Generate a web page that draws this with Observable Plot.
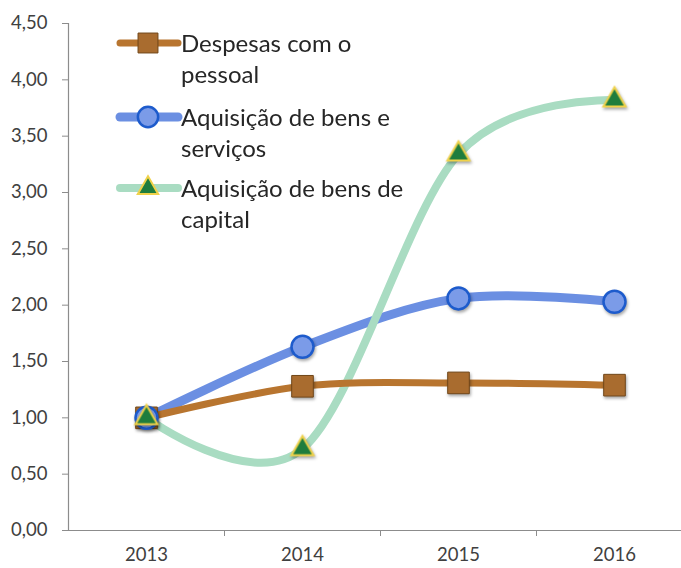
<!DOCTYPE html>
<html><head><meta charset="utf-8">
<script src="https://cdn.jsdelivr.net/npm/d3@7"></script>
<script src="https://cdn.jsdelivr.net/npm/@observablehq/plot@0.6"></script>
<style>
body{margin:0;background:#fff;}
#wrap{position:relative;width:681px;height:568px;font-family:Lato,sans-serif;}
#legend{position:absolute;left:0;top:0;pointer-events:none;}
</style></head><body><div id="wrap"></div>
<script>
// ---- data ----
const years = [2013, 2014, 2015, 2016];
const seriesNames = ["Despesas com o pessoal", "Aquisição de bens e serviços", "Aquisição de bens de capital"];
const legendLines = [["Despesas com o", "pessoal"], ["Aquisição de bens e", "serviços"], ["Aquisição de bens de", "capital"]];
const despesasPessoal = [1.00, 1.28, 1.31, 1.29];
const bensServicos   = [1.00, 1.63, 2.06, 2.03];
const bensCapital    = [1.00, 0.725, 3.34, 3.82];
const yTicks = [0, 0.5, 1, 1.5, 2, 2.5, 3, 3.5, 4, 4.5];

// ---- styles ----
const styles = [
  {line: "#b8752f", lw: 7, symbol: "square",   fill: "#a96c2f", mstroke: "#714719", r: 12.2, msw: 1},
  {line: "#6b8fe2", lw: 9, symbol: "circle",   fill: "#7b9be8", mstroke: "#1d5bcc", r: 11,   msw: 2.5},
  {line: "#a9dcc2", lw: 8, symbol: "triangle", fill: "#1f7d3d", mstroke: "#f0d24a", r: 8.2,  msw: 2}
];
const values = [despesasPessoal, bensServicos, bensCapital];
const rows = values.flatMap((arr, s) => arr.map((v, i) => ({year: years[i], value: v, s})));
const ser = s => rows.filter(d => d.s === s);

const lineMark = s => Plot.line(ser(s), {x: "year", y: "value", stroke: styles[s].line, strokeWidth: styles[s].lw,
  curve: "cardinal", strokeLinecap: "round", strokeLinejoin: "round"});
const dotMark = s => Plot.dot(ser(s), {x: "year", y: "value", symbol: styles[s].symbol, r: styles[s].r,
  fill: styles[s].fill, stroke: styles[s].mstroke, strokeWidth: styles[s].msw});

const fmt = d => d.toFixed(2).replace(".", ",");

const chart = Plot.plot({
  width: 681, height: 568,
  marginLeft: 68, marginRight: 0, marginTop: 23, marginBottom: 38,
  style: {fontFamily: "Lato, sans-serif", fontSize: "18.5px", color: "#404040", background: "#fff"},
  x: {domain: [2012.5, 2016.5], range: [68, 692], label: null},
  y: {domain: [0, 4.5], label: null},
  marks: [
    Plot.ruleX([2012.5], {stroke: "#8c8c8c", strokeWidth: 1.2}),
    Plot.ruleY([0], {stroke: "#8c8c8c", strokeWidth: 1.2}),
    Plot.axisY({ticks: yTicks, tickFormat: fmt, tickSize: 6, tickPadding: 15, stroke: "#8c8c8c", fill: "#404040", label: null}),
    Plot.axisX({ticks: [2013.5, 2014.5, 2015.5], tickFormat: () => "", tickSize: 6, stroke: "#8c8c8c", label: null}),
    Plot.axisX({ticks: years, tickFormat: d => String(d), tickSize: 0, tickPadding: 17, fill: "#404040", label: null}),
    lineMark(1), lineMark(2), lineMark(0),
    dotMark(0), dotMark(1), dotMark(2)
  ]
});
const wrap = document.getElementById("wrap");
wrap.appendChild(chart);
chart.querySelectorAll('g[aria-label="dot"]').forEach(g => g.style.filter = "drop-shadow(1px 2px 1.5px rgba(0,0,0,0.35))");

// ---- legend overlay ----
const leg = d3.select(wrap).append("svg").attr("id", "legend").attr("width", 681).attr("height", 568);
const entryY = [43, 117, 188];
const symbolGen = {square: d3.symbolSquare, circle: d3.symbolCircle, triangle: d3.symbolTriangle};
legendLines.forEach((lines, i) => {
  const st = styles[i];
  const g = leg.append("g").attr("transform", `translate(0,${entryY[i]})`);
  g.append("line").attr("x1", 120).attr("x2", 178).attr("y1", 0).attr("y2", 0)
    .attr("stroke", st.line).attr("stroke-width", st.lw).attr("stroke-linecap", "round");
  g.append("path").attr("transform", "translate(148,0)")
    .attr("d", d3.symbol(symbolGen[st.symbol], Math.PI * st.r * st.r * 0.85)())
    .attr("fill", st.fill).attr("stroke", st.mstroke).attr("stroke-width", st.msw);
  lines.forEach((t, k) => {
    g.append("text").attr("x", 181).attr("y", k * 31).attr("dy", "0.36em")
      .attr("font-family", "Lato, sans-serif").attr("font-size", 24).attr("fill", "#262626").text(t);
  });
});
</script></body></html>
